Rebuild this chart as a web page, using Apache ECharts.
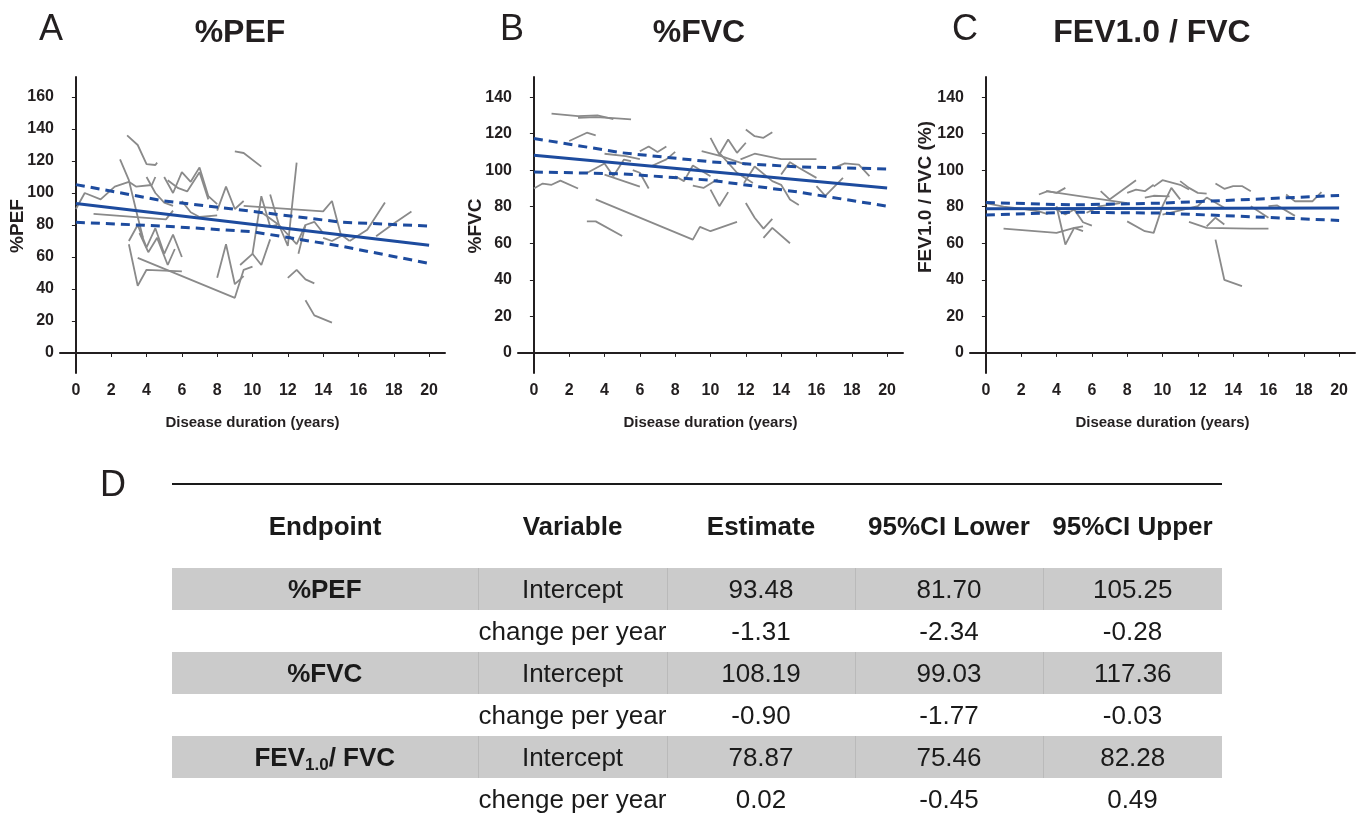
<!DOCTYPE html>
<html>
<head>
<meta charset="utf-8">
<script src="https://cdn.jsdelivr.net/npm/echarts@6/dist/echarts.min.js"></script>
<style>
  html, body { margin: 0; padding: 0; background: #fff; }
  #chart { position: absolute; left: 0; top: 0; width: 1357px; height: 823px; }
  #letterD { position: absolute; left: 100px; top: 463px; font: 36px 'Liberation Sans', Arial, sans-serif; color: #231f20; }
  #tbl { position: absolute; left: 172px; top: 483px; width: 1050px; border-collapse: collapse; table-layout: fixed;
         border-top: 2px solid #1a1a1a; font-family: 'Liberation Sans', Arial, sans-serif; font-size: 26px; color: #1a1a1a; }
  #tbl th, #tbl td { padding: 0; text-align: center; white-space: nowrap; }
  #tbl th { height: 83px; font-weight: bold; }
  #tbl td { height: 42px; line-height: 42px; }
  #tbl tr.shade td { background: #cbcbcb; }
  #tbl tr.shade td + td { border-left: 1px solid #bababa; }
  #tbl td.ep { font-weight: bold; }
  #tbl sub { font-size: 17px; vertical-align: -4px; line-height: 0; }
</style>
</head>
<body>
<div id="chart"></div>
<div id="letterD">D</div>
<table id="tbl">
  <colgroup><col style="width:306px"><col style="width:189px"><col style="width:188px"><col style="width:188px"><col style="width:179px"></colgroup>
  <thead><tr id="head"></tr></thead>
  <tbody id="body"></tbody>
</table>
<script>
// axis ticks
const xTicks = [0, 2, 4, 6, 8, 10, 12, 14, 16, 18, 20]
const pefTicks = [0, 20, 40, 60, 80, 100, 120, 140, 160]
const fvcTicks = [0, 20, 40, 60, 80, 100, 120, 140]

// individual patients, [years, value]
const pefSubjects = [
  [[0, 90], [0.5, 100], [1.4, 96], [2.2, 104], [3, 107], [3.4, 104], [4.3, 105], [4.5, 110]],
  [[2.9, 136], [3.5, 130], [4, 118], [4.5, 117.5], [4.6, 119]],
  [[4, 110], [4.5, 100], [5, 94], [5.5, 92]],
  [[2.5, 121], [3, 108], [3.5, 85], [3.8, 72]],
  [[1, 87], [5.1, 83.5], [5.5, 89]],
  [[3, 70], [3.5, 80], [4, 66], [4.5, 78], [5, 62], [5.5, 74], [6, 60]],
  [[3.6, 75], [4.1, 63], [4.6, 72], [5.2, 55], [5.6, 65]],
  [[3, 68], [3.5, 42], [4, 52], [5, 51.5], [6, 51]],
  [[3.5, 59.5], [9, 34.5], [9.5, 52], [10, 54]],
  [[8, 47], [8.5, 68], [9, 43], [9.5, 48]],
  [[5, 110], [5.5, 100], [6, 113], [6.5, 107], [7, 116], [7.5, 98], [8, 93]],
  [[5.2, 108], [5.8, 103], [6.3, 101], [7, 113], [7.5, 96]],
  [[8, 89], [8.5, 104], [9, 90], [9.5, 95]],
  [[9, 126], [9.5, 125], [10.5, 116.5]],
  [[9.5, 92], [14, 88.5], [14.5, 95], [15, 74], [15.5, 70]],
  [[10, 62], [10.5, 98], [11, 79], [11.4, 80]],
  [[11, 99], [11.5, 80], [12, 67], [12.5, 119]],
  [[12, 47], [12.5, 52], [13, 46], [13.5, 43.5]],
  [[13, 33], [13.5, 23.5], [14.5, 19]],
  [[9.3, 55], [10, 62], [10.5, 55], [11, 71]],
  [[15.5, 70], [16.5, 77], [17.5, 94]],
  [[17, 73], [18, 81], [19, 88.5]],
  [[14, 72], [14.5, 70], [15, 73], [16, 73]],
  [[12.6, 62], [13, 80], [13.5, 82], [14, 75]],
  [[6, 95], [6.5, 88], [7, 85], [8, 86]],
  [[10.5, 88], [11, 84], [11.5, 80], [12.5, 68], [13, 80]]
]
const fvcSubjects = [
  [[1, 131], [2.5, 129.6], [3.6, 130], [4.5, 128]],
  [[2.5, 128.7], [3.5, 129], [4.5, 128.5], [5.5, 127.8]],
  [[2, 116], [3, 120.5], [3.5, 119]],
  [[0, 90], [0.5, 92.7], [1, 92], [1.5, 94.3], [2.5, 90]],
  [[3.5, 84], [9, 62], [9.4, 69], [10, 66.6], [11.5, 71.7]],
  [[3, 72], [3.5, 72], [5, 64]],
  [[3, 98.5], [4, 103.7], [4.5, 96.7], [5.1, 105.8], [5.5, 105]],
  [[4, 97.6], [6, 91]],
  [[4, 109], [5.2, 107.7], [6, 106]],
  [[6, 110.4], [6.5, 113], [7, 110], [7.5, 113]],
  [[5.6, 100], [6, 98.6], [6.5, 90]],
  [[6.6, 102], [7.5, 105.9], [8, 110]],
  [[8, 96.7], [8.5, 94], [9, 102.6], [10, 96.7]],
  [[9, 91.6], [9.6, 90.3], [10.4, 95]],
  [[9.5, 110.4], [10.6, 107.7], [12, 103]],
  [[10, 117.7], [10.5, 108.6], [11, 116.8], [11.5, 109.5], [12, 115]],
  [[10, 89.4], [10.5, 80.3], [11, 88]],
  [[10.5, 109.5], [11.5, 98.6], [12.4, 93]],
  [[12, 122.3], [12.5, 118.6], [13, 117.7], [13.5, 120.8]],
  [[12, 82], [12.5, 74], [13, 68], [13.5, 73.4]],
  [[13, 63], [13.5, 68.4], [14.5, 60]],
  [[11.7, 105.9], [12.5, 109], [14, 106], [16, 106]],
  [[11.9, 93], [12.5, 102], [13.5, 94], [14, 92], [14.5, 84], [15, 81]],
  [[14, 97.6], [14.5, 104.4], [15, 101.3], [16, 95.8]],
  [[16, 91.3], [16.5, 86], [17.5, 95.8]],
  [[17, 101.3], [17.6, 103.7], [18.4, 103], [19, 96.7]]
]
const ratioSubjects = [
  [[0, 82], [1, 80], [2, 79], [3, 77.5], [3.5, 76]],
  [[1, 68], [4, 65.7], [5, 68.4], [5.5, 66.6]],
  [[3, 86.7], [3.5, 88.5], [4, 87.6], [4.5, 90.3]],
  [[3.4, 88.5], [8, 82]],
  [[4, 80.3], [4.5, 59.3], [5, 68.4], [5.5, 69.3]],
  [[4, 78.5], [4.5, 75.7], [5, 78.5], [5.5, 71.5], [6, 69.7]],
  [[6.5, 88.5], [7, 84], [8.5, 94.5]],
  [[5.7, 76.7], [6.5, 80.3], [7.6, 82]],
  [[8, 72], [9, 66.6], [9.5, 65.7], [10, 80.3], [10.5, 90.3], [11, 84]],
  [[8, 87.6], [8.5, 89.4], [9, 88.5], [9.5, 92]],
  [[9, 85], [9.5, 86], [10.4, 85.7]],
  [[9.5, 91], [10, 94.5], [11, 92], [11.5, 89.4]],
  [[11, 94], [11.5, 90.3], [12, 87.6], [12.5, 87.2]],
  [[10, 75.7], [12, 80.3], [12.5, 85], [13.5, 79.4]],
  [[11.5, 71.7], [12.5, 68.4], [15, 68], [16, 68]],
  [[13, 92.7], [13.5, 89.8], [14, 91.3], [14.5, 91.3], [15, 88.5]],
  [[13, 62], [13.5, 40], [14.5, 36.5]],
  [[12.5, 69.3], [13, 74], [13.5, 70.3]],
  [[15, 80.3], [16, 74]],
  [[16, 80.3], [16.5, 80.7], [17.5, 75]],
  [[17, 86.7], [17.5, 83], [18.5, 83], [19, 88]]
]

// mixed model fit and 95% CI band
const pefFit = [[0, 93.48], [20, 67.28]]
const pefUpper = [[0, 105.25], [5, 95], [10, 88.5], [15, 81.8], [20, 79.3]]
const pefLower = [[0, 81.7], [5, 79.3], [10, 75.8], [15, 66.8], [20, 56]]
const fvcFit = [[0, 108.19], [20, 90.19]]
const fvcUpper = [[0, 117.36], [5, 109.5], [10, 104.6], [15, 101.8], [20, 100.7]]
const fvcLower = [[0, 99.03], [5, 98], [10, 94.5], [15, 88], [20, 80.3]]
const ratioFit = [[0, 78.87], [20, 79.27]]
const ratioUpper = [[0, 82.28], [5, 81], [10, 82], [15, 84], [20, 86.2]]
const ratioLower = [[0, 75.46], [5, 77], [10, 76.5], [15, 74.5], [20, 72.5]]

// table D
const headers = ['Endpoint', 'Variable', 'Estimate', '95%CI Lower', '95%CI Upper']
const endpoints = ['%PEF', '', '%FVC', '', 'FEV<sub>1.0</sub>/ FVC', '']
const variables = ['Intercept', 'change per year', 'Intercept', 'change per year', 'Intercept', 'chenge per year']
const estimates = ['93.48', '-1.31', '108.19', '-0.90', '78.87', '0.02']
const ciLower = ['81.70', '-2.34', '99.03', '-1.77', '75.46', '-0.45']
const ciUpper = ['105.25', '-0.28', '117.36', '-0.03', '82.28', '0.49']

document.getElementById('head').innerHTML = headers.map(h => '<th>' + h + '</th>').join('')
document.getElementById('body').innerHTML = endpoints.map((e, i) =>
  '<tr class="' + (i % 2 === 0 ? 'shade' : '') + '"><td class="ep">' + e + '</td><td>' + variables[i] +
  '</td><td>' + estimates[i] + '</td><td>' + ciLower[i] + '</td><td>' + ciUpper[i] + '</td></tr>'
).join('')

const FONT = "'Liberation Sans', Arial, sans-serif"
const INK = '#231f20'
const BLUE = '#1d4b9e'

const grids = [
  { left: 60, top: 77, width: 385, height: 296 },
  { left: 518, top: 77, width: 385, height: 296 },
  { left: 970, top: 77, width: 385, height: 296 }
]

function xAxis(i) {
  return {
    type: 'value', gridIndex: i, min: -0.9, max: 20.9,
    name: 'Disease duration (years)', nameLocation: 'middle', nameGap: 42,
    nameTextStyle: { fontFamily: FONT, fontWeight: 'bold', fontSize: 15, color: INK },
    axisLine: { show: true, lineStyle: { color: INK, width: 2 } },
    axisTick: { show: true, customValues: xTicks, length: 4, lineStyle: { color: INK, width: 1 } },
    axisLabel: { customValues: xTicks, margin: 10, fontFamily: FONT, fontWeight: 'bold', fontSize: 16, color: INK },
    splitLine: { show: false }
  }
}
function yAxis(i, min, max, ticks) {
  return {
    type: 'value', gridIndex: i, min: min, max: max,
    axisLine: { show: true, lineStyle: { color: INK, width: 2 } },
    axisTick: { show: true, customValues: ticks, length: 4, lineStyle: { color: INK, width: 1 } },
    axisLabel: { customValues: ticks, margin: 6, fontFamily: FONT, fontWeight: 'bold', fontSize: 16, color: INK },
    splitLine: { show: false }
  }
}

function subjectSeries(list, i) {
  return list.map(d => ({
    type: 'line', xAxisIndex: i, yAxisIndex: i, data: d, showSymbol: false, silent: true, z: 2,
    lineStyle: { color: '#8a8a8a', width: 1.8 }
  }))
}
function fitSeries(d, i, dashed) {
  return {
    type: 'line', xAxisIndex: i, yAxisIndex: i, data: d, showSymbol: false, silent: true, z: 5,
    lineStyle: { color: BLUE, width: 3, type: dashed ? [9, 6] : 'solid' }
  }
}

function label(x, y, text, font, align, rot) {
  return {
    type: 'text', x: x, y: y, rotation: rot || 0, silent: true,
    style: { text: text, font: font, fill: INK, textAlign: align, textVerticalAlign: 'middle' }
  }
}

const chart = echarts.init(document.getElementById('chart'))
chart.setOption({
  animation: false,
  backgroundColor: '#fff',
  grid: grids,
  xAxis: [xAxis(0), xAxis(1), xAxis(2)],
  yAxis: [yAxis(0, -12.5, 172.5, pefTicks), yAxis(1, -11, 151, fvcTicks), yAxis(2, -11, 151, fvcTicks)],
  graphic: [
    label(39, 30, 'A', '36px ' + FONT, 'left'),
    label(500, 30, 'B', '36px ' + FONT, 'left'),
    label(952, 30, 'C', '36px ' + FONT, 'left'),
    label(240, 33, '%PEF', 'bold 32px ' + FONT, 'center'),
    label(699, 33, '%FVC', 'bold 32px ' + FONT, 'center'),
    label(1152, 33, 'FEV1.0 / FVC', 'bold 32px ' + FONT, 'center'),
    label(18, 226, '%PEF', 'bold 19px ' + FONT, 'center', Math.PI / 2),
    label(476, 226, '%FVC', 'bold 19px ' + FONT, 'center', Math.PI / 2),
    label(926, 197, 'FEV1.0 / FVC (%)', 'bold 19px ' + FONT, 'center', Math.PI / 2)
  ],
  series: [].concat(
    subjectSeries(pefSubjects, 0),
    subjectSeries(fvcSubjects, 1),
    subjectSeries(ratioSubjects, 2),
    [
      fitSeries(pefFit, 0), fitSeries(pefUpper, 0, true), fitSeries(pefLower, 0, true),
      fitSeries(fvcFit, 1), fitSeries(fvcUpper, 1, true), fitSeries(fvcLower, 1, true),
      fitSeries(ratioFit, 2), fitSeries(ratioUpper, 2, true), fitSeries(ratioLower, 2, true)
    ]
  )
})
</script>
</body>
</html>
